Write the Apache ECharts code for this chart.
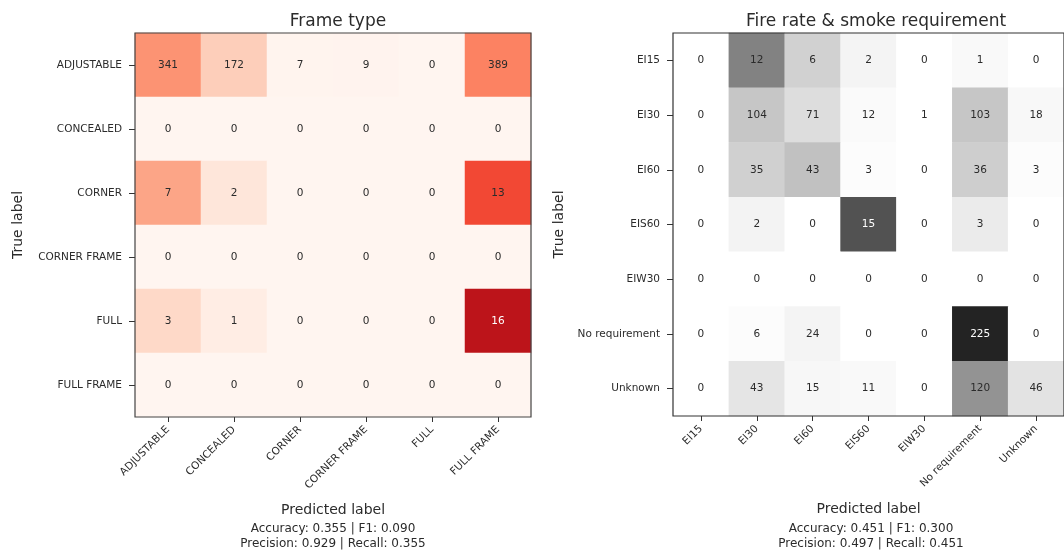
<!DOCTYPE html>
<html>
<head>
<meta charset="utf-8">
<script src="https://cdn.jsdelivr.net/npm/echarts@6/dist/echarts.min.js"></script>
<style>
  html, body { margin: 0; padding: 0; background: #fff; }
  #chart { width: 1064px; height: 555px; }
</style>
</head>
<body>
<div id="chart"></div>
<script>
// Confusion matrix: frame type
const frameLabels = ['ADJUSTABLE', 'CONCEALED', 'CORNER', 'CORNER FRAME', 'FULL', 'FULL FRAME'];
const frameCounts = [
  [341, 172, 7, 9, 0, 389],
  [0, 0, 0, 0, 0, 0],
  [7, 2, 0, 0, 0, 13],
  [0, 0, 0, 0, 0, 0],
  [3, 1, 0, 0, 0, 16],
  [0, 0, 0, 0, 0, 0]
];
const frameMetrics = ['Accuracy: 0.355 | F1: 0.090', 'Precision: 0.929 | Recall: 0.355'];

// Confusion matrix: fire rate & smoke requirement
const fireLabels = ['EI15', 'EI30', 'EI60', 'EIS60', 'EIW30', 'No requirement', 'Unknown'];
const fireCounts = [
  [0, 12, 6, 2, 0, 1, 0],
  [0, 104, 71, 12, 1, 103, 18],
  [0, 35, 43, 3, 0, 36, 3],
  [0, 2, 0, 15, 0, 3, 0],
  [0, 0, 0, 0, 0, 0, 0],
  [0, 6, 24, 0, 0, 225, 0],
  [0, 43, 15, 11, 0, 120, 46]
];
const fireMetrics = ['Accuracy: 0.451 | F1: 0.300', 'Precision: 0.497 | Recall: 0.451'];

// ColorBrewer sequential ramps
const REDS = ['#fff5f0', '#fee0d2', '#fcbba1', '#fc9272', '#fb6a4a', '#ef3b2c', '#cb181d', '#a50f15', '#67000d'];
const GREYS = ['#ffffff', '#f0f0f0', '#d9d9d9', '#bdbdbd', '#969696', '#737373', '#525252', '#252525', '#000000'];

const FONT = 'DejaVu Sans';
const TEXT = '#2b2b2b';

// Row-normalised cells: [col, row, count, share of row]
function cells(counts) {
  const out = [];
  counts.forEach((row, r) => {
    const total = row.reduce((a, b) => a + b, 0);
    row.forEach((v, c) => {
      const share = total > 0 ? v / total : 0;
      out.push({
        value: [c, r, v, share],
        label: { color: share > 0.7 ? '#ffffff' : TEXT }
      });
    });
  });
  return out;
}

function axesFor(labels, gridIndex, yGap) {
  const x = {
    type: 'category', gridIndex, data: labels, z: 5,
    name: 'Predicted label', nameLocation: 'middle', nameGap: 86,
    nameTextStyle: { fontFamily: FONT, fontSize: 14, color: TEXT },
    axisLine: { show: false },
    axisTick: { show: true, alignWithLabel: true, length: 5, lineStyle: { color: '#333', width: 1 } },
    axisLabel: { rotate: 45, margin: 11, fontFamily: FONT, fontSize: 10.5, color: TEXT, interval: 0 },
    splitLine: { show: false }
  };
  const y = {
    type: 'category', gridIndex, data: labels, inverse: true, z: 5,
    name: 'True label', nameLocation: 'middle', nameGap: yGap,
    nameTextStyle: { fontFamily: FONT, fontSize: 14, color: TEXT },
    axisLine: { show: false },
    axisTick: { show: true, alignWithLabel: true, length: 6, lineStyle: { color: '#333', width: 1 } },
    axisLabel: { margin: 13, fontFamily: FONT, fontSize: 10.5, color: TEXT, interval: 0 },
    splitLine: { show: false }
  };
  return [x, y];
}

const [fx, fy] = axesFor(frameLabels, 0, 110);
const [gx, gy] = axesFor(fireLabels, 1, 107);

function metricText(lines, cx) {
  return lines.map((t, i) => ({
    type: 'text', x: cx, y: 529 + i * 14.5, z: 10,
    style: { text: t, font: '12px "' + FONT + '"', fill: TEXT, textAlign: 'center', textVerticalAlign: 'middle' }
  }));
}

const chart = echarts.init(document.getElementById('chart'), null, { renderer: 'canvas' });
chart.setOption({
  backgroundColor: '#ffffff',
  animation: false,
  title: [
    { text: 'Frame type', left: 333, top: 8, textAlign: 'center',
      textStyle: { fontFamily: FONT, fontSize: 17, fontWeight: 'normal', color: TEXT } },
    { text: 'Fire rate & smoke requirement', left: 871, top: 8, textAlign: 'center',
      textStyle: { fontFamily: FONT, fontSize: 17, fontWeight: 'normal', color: TEXT } }
  ],
  grid: [
    { left: 135, top: 33, width: 396, height: 384, show: true, z: 10,
      backgroundColor: 'transparent', borderColor: '#444', borderWidth: 1.2 },
    { left: 673, top: 33, width: 397, height: 383, show: true, z: 10,
      backgroundColor: 'transparent', borderColor: '#333', borderWidth: 1.2 }
  ],
  xAxis: [fx, gx],
  yAxis: [fy, gy],
  visualMap: [
    { show: false, seriesIndex: 0, dimension: 3, min: 0, max: 1, inRange: { color: REDS } },
    { show: false, seriesIndex: 1, dimension: 3, min: 0, max: 1, inRange: { color: GREYS } }
  ],
  series: [
    { type: 'heatmap', xAxisIndex: 0, yAxisIndex: 0, data: cells(frameCounts), z: 1,
      label: { show: true, fontFamily: FONT, fontSize: 10.5, formatter: p => String(p.value[2]) },
      emphasis: { disabled: true } },
    { type: 'heatmap', xAxisIndex: 1, yAxisIndex: 1, data: cells(fireCounts), z: 1,
      label: { show: true, fontFamily: FONT, fontSize: 10.5, formatter: p => String(p.value[2]) },
      emphasis: { disabled: true } }
  ],
  graphic: [...metricText(frameMetrics, 333), ...metricText(fireMetrics, 871)]
});
</script>
</body>
</html>
